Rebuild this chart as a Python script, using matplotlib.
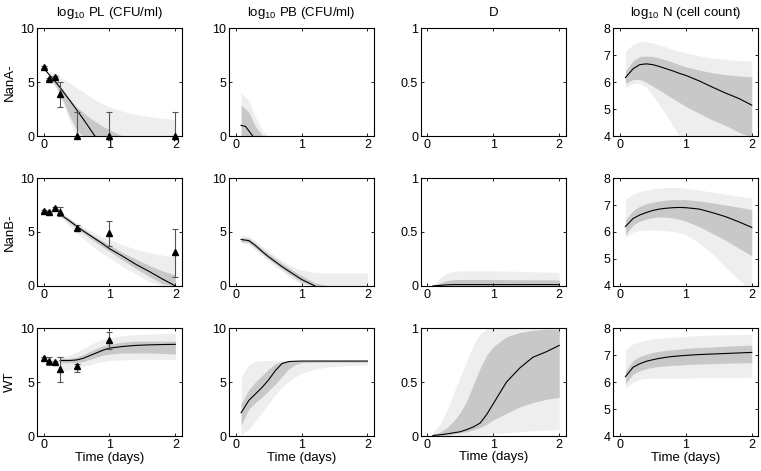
import numpy as np
import matplotlib
matplotlib.use("Agg")
import matplotlib.pyplot as plt

plt.rcParams['font.family'] = ['Liberation Sans', 'DejaVu Sans']
plt.rcParams['mathtext.default'] = 'regular'
plt.rcParams['font.size'] = 8.5

nan = np.nan

# model time grids
t_model = [0.083, 0.2, 0.3, 0.4, 0.5, 0.6, 0.7, 0.8, 0.9, 1.0, 1.2, 1.4, 1.6, 1.8, 2.0]
t_pl = [0.25, 0.4, 0.5, 0.6, 0.7, 0.8, 0.9, 1.0, 1.2, 1.4, 1.6, 1.8, 2.0]

# ---- NanA- ----
pl_nana_t = [0, 0.2, 0.4, 0.6, 0.78]
pl_nana_mid = [6.3, 4.9, 3.3, 1.6, 0.0]
pl_nana_dk_hi = [5.8, 5.0, 4.3, 3.4, 2.7, 2.2, 1.7, 1.3, 0.9, 0.6, 0, 0, 0, 0, 0]
pl_nana_dk_lo = [5.5, 4.5, 3.2, 1.8, 0.6, 0, 0, 0, 0, 0, 0, 0, 0, 0, 0]
pl_nana_lt_hi = [6.0, 5.8, 5.3, 4.9, 4.5, 4.1, 3.7, 3.3, 3.0, 2.7, 2.3, 2.0, 1.8, 1.65, 1.55]
pl_nana_lt_lo = [5.6, 4.3, 3.0, 1.3, 0, 0, 0, 0, 0, 0, 0, 0, 0, 0, 0]

pb_nana_t = [0.083, 0.15, 0.26]
pb_nana_mid = [1.0, 0.9, 0.0]
pb_nana_dk_hi = [2.9, 2.2, 0.9, 0.1, 0, 0, 0, 0, 0, 0, 0, 0, 0, 0, 0]
pb_nana_lt_hi = [4.0, 3.3, 1.8, 0.6, 0, 0, 0, 0, 0, 0, 0, 0, 0, 0, 0]

n_nana_mid = [6.17, 6.5, 6.65, 6.68, 6.65, 6.58, 6.5, 6.42, 6.33, 6.25, 6.05, 5.82, 5.6, 5.4, 5.15]
n_nana_dk_hi = [6.4, 6.8, 6.95, 6.97, 6.95, 6.9, 6.82, 6.74, 6.65, 6.57, 6.45, 6.35, 6.28, 6.23, 6.2]
n_nana_dk_lo = [5.95, 6.1, 6.1, 6.0, 5.85, 5.7, 5.55, 5.4, 5.25, 5.1, 4.85, 4.6, 4.4, 4.15, 3.95]
n_nana_lt_hi = [7.15, 7.4, 7.5, 7.5, 7.45, 7.38, 7.3, 7.22, 7.15, 7.08, 6.98, 6.9, 6.85, 6.8, 6.78]
n_nana_lt_lo = [5.8, 5.95, 5.95, 5.8, 5.5, 5.15, 4.8, 4.4, 4.0, 3.6, 3.0, 2.5, 2.0, 1.6, 1.2]

# ---- NanB- ----
pl_nanb_mid = [6.65, 6.0, 5.55, 5.1, 4.7, 4.3, 3.9, 3.45, 2.75, 2.0, 1.35, 0.65, 0.0]
pl_nanb_dk_hi = [6.8, 6.15, 5.7, 5.3, 4.9, 4.5, 4.15, 3.8, 3.1, 2.5, 1.9, 1.4, 1.0]
pl_nanb_dk_lo = [6.5, 5.8, 5.35, 4.9, 4.45, 4.0, 3.6, 3.2, 2.4, 1.6, 0.9, 0.2, 0.0]
pl_nanb_lt_hi = [6.9, 6.3, 5.9, 5.5, 5.15, 4.85, 4.55, 4.3, 3.8, 3.4, 3.1, 2.85, 2.7]
pl_nanb_lt_lo = [6.4, 5.5, 4.95, 4.4, 3.9, 3.4, 3.0, 2.6, 1.8, 1.1, 0.4, 0.0, 0.0]

pb_nanb_mid = [4.3, 4.2, 3.75, 3.2, 2.7, 2.25, 1.8, 1.4, 1.0, 0.6, 0, nan, nan, nan, nan]
pb_nanb_dk_hi = [4.5, 4.4, 3.95, 3.45, 3.0, 2.55, 2.1, 1.7, 1.3, 0.95, 0.3, 0, 0, 0, 0]
pb_nanb_dk_lo = [4.1, 4.0, 3.5, 3.0, 2.5, 2.05, 1.6, 1.15, 0.75, 0.35, 0, 0, 0, 0, 0]
pb_nanb_lt_hi = [4.7, 4.6, 4.2, 3.7, 3.25, 2.8, 2.4, 2.0, 1.7, 1.45, 1.25, 1.2, 1.2, 1.2, 1.2]
pb_nanb_lt_lo = [4.0, 3.9, 3.3, 2.8, 2.3, 1.8, 1.4, 0.9, 0.5, 0.1, 0, 0, 0, 0, 0]

d_nanb_mid = [0.0, 0.005, 0.01, 0.012, 0.012, 0.012, 0.012, 0.012, 0.012, 0.012, 0.012, 0.012, 0.012, 0.012, 0.012]
d_nanb_dk_hi = [0.0, 0.03, 0.05, 0.058, 0.06, 0.06, 0.06, 0.06, 0.06, 0.06, 0.058, 0.057, 0.056, 0.055, 0.055]
d_nanb_lt_hi = [0.01, 0.08, 0.12, 0.135, 0.14, 0.14, 0.14, 0.14, 0.14, 0.14, 0.138, 0.135, 0.13, 0.128, 0.125]

n_nanb_mid = [6.2, 6.5, 6.63, 6.72, 6.8, 6.85, 6.88, 6.9, 6.91, 6.9, 6.85, 6.72, 6.57, 6.38, 6.17]
n_nanb_dk_hi = [6.45, 6.8, 6.95, 7.05, 7.1, 7.15, 7.18, 7.2, 7.2, 7.2, 7.15, 7.08, 7.0, 6.92, 6.83]
n_nanb_dk_lo = [5.9, 6.25, 6.4, 6.48, 6.53, 6.56, 6.55, 6.52, 6.47, 6.4, 6.2, 5.95, 5.7, 5.4, 5.12]
n_nanb_lt_hi = [7.2, 7.4, 7.5, 7.55, 7.6, 7.63, 7.65, 7.65, 7.65, 7.62, 7.55, 7.48, 7.4, 7.33, 7.27]
n_nanb_lt_lo = [5.8, 6.0, 6.05, 6.07, 6.07, 6.06, 6.05, 6.02, 5.98, 5.9, 5.6, 5.2, 4.7, 4.25, 3.8]

# ---- WT ----
pl_wt_mid = [7.0, 7.0, 7.05, 7.2, 7.45, 7.7, 7.95, 8.15, 8.3, 8.4, 8.45, 8.48, 8.5]
pl_wt_dk_hi = [7.2, 7.2, 7.3, 7.55, 7.85, 8.1, 8.35, 8.5, 8.7, 8.8, 8.8, 8.8, 8.8]
pl_wt_dk_lo = [6.8, 6.8, 6.8, 6.9, 7.1, 7.3, 7.5, 7.6, 7.7, 7.7, 7.7, 7.65, 7.6]
pl_wt_lt_hi = [7.3, 7.5, 7.8, 8.1, 8.45, 8.75, 8.95, 9.1, 9.3, 9.4, 9.45, 9.5, 9.5]
pl_wt_lt_lo = [6.0, 6.15, 6.3, 6.45, 6.6, 6.8, 6.9, 7.0, 7.05, 7.1, 7.1, 7.1, 7.1]

pb_wt_mid = [2.15, 3.3, 3.9, 4.5, 5.2, 6.05, 6.7, 6.9, 6.93, 6.95, 6.95, 6.95, 6.95, 6.95, 6.95]
pb_wt_dk_hi = [3.0, 4.3, 5.0, 5.6, 6.2, 6.7, 6.9, 6.95, 6.95, 6.95, 6.97, 6.98, 7.0, 7.0, 7.0]
pb_wt_dk_lo = [1.0, 2.5, 3.1, 3.6, 4.2, 4.8, 5.5, 6.2, 6.6, 6.8, 6.85, 6.85, 6.85, 6.85, 6.85]
pb_wt_lt_hi = [5.5, 6.6, 6.95, 7.0, 7.0, 7.0, 7.0, 7.0, 7.0, 7.0, 7.0, 7.0, 7.0, 7.0, 7.0]
pb_wt_lt_lo = [0.1, 0.6, 1.4, 2.2, 3.0, 3.8, 4.5, 5.0, 5.45, 5.8, 6.2, 6.4, 6.5, 6.55, 6.6]

d_wt_mid = [0.005, 0.012, 0.02, 0.03, 0.04, 0.06, 0.085, 0.12, 0.2, 0.3, 0.5, 0.63, 0.73, 0.78, 0.84]
d_wt_dk_hi = [0.01, 0.04, 0.08, 0.14, 0.22, 0.33, 0.48, 0.63, 0.75, 0.83, 0.92, 0.96, 0.98, 0.99, 0.99]
d_wt_dk_lo = [0.0, 0.005, 0.01, 0.02, 0.03, 0.04, 0.06, 0.08, 0.11, 0.15, 0.21, 0.27, 0.31, 0.34, 0.36]
d_wt_lt_hi = [0.03, 0.12, 0.25, 0.4, 0.55, 0.7, 0.85, 0.95, 0.99, 1.0, 1.0, 1.0, 1.0, 1.0, 1.0]
d_wt_lt_lo = [0, 0, 0, 0, 0, 0.003, 0.006, 0.01, 0.015, 0.02, 0.03, 0.04, 0.05, 0.055, 0.06]

n_wt_mid = [6.2, 6.55, 6.68, 6.77, 6.83, 6.88, 6.92, 6.95, 6.97, 6.99, 7.02, 7.04, 7.06, 7.08, 7.1]
n_wt_dk_hi = [6.4, 6.8, 6.95, 7.03, 7.1, 7.14, 7.18, 7.2, 7.22, 7.25, 7.28, 7.3, 7.33, 7.35, 7.37]
n_wt_dk_lo = [5.95, 6.3, 6.42, 6.5, 6.55, 6.58, 6.6, 6.62, 6.63, 6.65, 6.67, 6.68, 6.7, 6.71, 6.72]
n_wt_lt_hi = [7.2, 7.42, 7.5, 7.56, 7.6, 7.62, 7.64, 7.66, 7.68, 7.7, 7.72, 7.74, 7.75, 7.76, 7.77]
n_wt_lt_lo = [5.78, 6.0, 6.1, 6.13, 6.15, 6.15, 6.15, 6.15, 6.15, 6.15, 6.16, 6.16, 6.17, 6.17, 6.18]

# ---- observed PL data (mean, lower err, upper err) ----
obs_t = [0, 0.083, 0.167, 0.25, 0.5, 1, 2]
obs_nana = [6.4, 5.3, 5.5, 3.9, 0.0, 0.0, 0.0]
obs_nana_elo = [0.1, 0.1, 0.1, 1.2, 0.0, 0.0, 0.0]
obs_nana_ehi = [0.1, 0.1, 0.1, 1.1, 2.25, 2.25, 2.25]
obs_nanb = [6.98, 6.88, 7.25, 6.88, 5.4, 4.88, 3.1]
obs_nanb_elo = [0.1, 0.1, 0.1, 0.4, 0.2, 1.2, 2.25]
obs_nanb_ehi = [0.1, 0.1, 0.1, 0.4, 0.2, 1.1, 2.2]
obs_wt_t = [0, 0.083, 0.167, 0.25, 0.5, 1]
obs_wt = [7.2, 7.0, 6.9, 6.2, 6.5, 8.9]
obs_wt_elo = [0.15, 0.4, 0.1, 1.2, 0.6, 0.85]
obs_wt_ehi = [0.15, 0.3, 0.1, 1.1, 0.2, 0.7]

row_labels = ["NanA-", "NanB-", "WT"]
col_titles = ["log$_{10}$ PL (CFU/ml)", "log$_{10}$ PB (CFU/ml)", "D", "log$_{10}$ N (cell count)"]
ylims = [(0, 10), (0, 10), (0, 1), (4, 8)]
yticks = [[0, 5, 10], [0, 5, 10], [0, 0.5, 1], [4, 5, 6, 7, 8]]

zeros = [0] * len(t_model)

# (t_band, lt_lo, lt_hi, dk_lo, dk_hi, t_line, mid)
panels = [
    [(t_model, pl_nana_lt_lo, pl_nana_lt_hi, pl_nana_dk_lo, pl_nana_dk_hi, pl_nana_t, pl_nana_mid),
     (t_model, zeros, pb_nana_lt_hi, zeros, pb_nana_dk_hi, pb_nana_t, pb_nana_mid),
     None,
     (t_model, n_nana_lt_lo, n_nana_lt_hi, n_nana_dk_lo, n_nana_dk_hi, t_model, n_nana_mid)],
    [(t_pl, pl_nanb_lt_lo, pl_nanb_lt_hi, pl_nanb_dk_lo, pl_nanb_dk_hi, t_pl, pl_nanb_mid),
     (t_model, pb_nanb_lt_lo, pb_nanb_lt_hi, pb_nanb_dk_lo, pb_nanb_dk_hi, t_model, pb_nanb_mid),
     (t_model, zeros, d_nanb_lt_hi, zeros, d_nanb_dk_hi, t_model, d_nanb_mid),
     (t_model, n_nanb_lt_lo, n_nanb_lt_hi, n_nanb_dk_lo, n_nanb_dk_hi, t_model, n_nanb_mid)],
    [(t_pl, pl_wt_lt_lo, pl_wt_lt_hi, pl_wt_dk_lo, pl_wt_dk_hi, t_pl, pl_wt_mid),
     (t_model, pb_wt_lt_lo, pb_wt_lt_hi, pb_wt_dk_lo, pb_wt_dk_hi, t_model, pb_wt_mid),
     (t_model, d_wt_lt_lo, d_wt_lt_hi, d_wt_dk_lo, d_wt_dk_hi, t_model, d_wt_mid),
     (t_model, n_wt_lt_lo, n_wt_lt_hi, n_wt_dk_lo, n_wt_dk_hi, t_model, n_wt_mid)],
]

observed = [
    (obs_t, obs_nana, obs_nana_elo, obs_nana_ehi),
    (obs_t, obs_nanb, obs_nanb_elo, obs_nanb_ehi),
    (obs_wt_t, obs_wt, obs_wt_elo, obs_wt_ehi),
]

fig = plt.figure(figsize=(7.61, 4.71), dpi=100)

lefts = [0.0486, 0.301, 0.553, 0.806]
bottoms = [0.711, 0.393, 0.0743]
w, h = 0.1905, 0.229

for r in range(3):
    for c in range(4):
        ax = fig.add_axes([lefts[c], bottoms[r], w, h])
        p = panels[r][c]
        if p is not None:
            tb, llo, lhi, dlo, dhi, tl, mid = p
            ax.fill_between(tb, llo, lhi, color='#eeeeee', lw=0)
            ax.fill_between(tb, dlo, dhi, color='#c8c8c8', lw=0)
            ax.plot(tl, mid, color='black', lw=0.8)
        if c == 0:
            ot, ov, elo, ehi = observed[r]
            ax.errorbar(ot, ov, yerr=[elo, ehi], fmt='none', ecolor='#555555',
                        elinewidth=0.8, capsize=2, capthick=0.8, clip_on=False)
            ax.plot(ot, ov, '^', color='black', ms=5, clip_on=False)
            ax.set_ylabel(row_labels[r], fontsize=9.5, labelpad=3)
        ax.set_xlim(-0.1, 2.1)
        ax.set_ylim(*ylims[c])
        ax.set_xticks([0, 1, 2])
        ax.set_yticks(yticks[c])
        ax.set_yticklabels(['%g' % v for v in yticks[c]])
        ax.tick_params(direction='in', length=2.5, width=0.6, top=True, right=True,
                       labelsize=9, pad=2)
        for s in ax.spines.values():
            s.set_linewidth(0.8)
        if r == 0:
            ax.set_title(col_titles[c], fontsize=9.5, pad=9)
        if r == 2:
            ax.set_xlabel("Time (days)", fontsize=9.5, labelpad=1 if c != 2 else 0)

fig.savefig("out.png", dpi=100)
